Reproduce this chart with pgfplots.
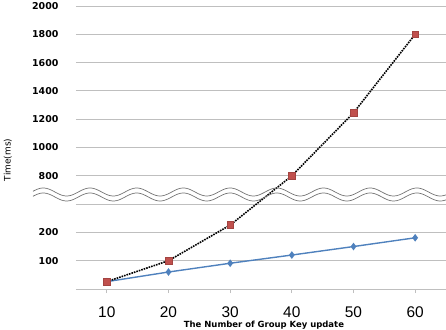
\documentclass[border=0pt]{standalone}
\usepackage{fontspec}
\setmainfont{DejaVu Sans}
\newfontfamily\arialf{Liberation Sans}
\usepackage{pgfplots}
\pgfplotsset{compat=1.18}
\definecolor{exred}{HTML}{C0504D}
\definecolor{exblue}{HTML}{4F81BD}
\definecolor{gridgray}{HTML}{BFBFBF}

\begin{document}
\begin{tikzpicture}
\begin{axis}[
  name=ax, at={(0,0)}, anchor=south west, scale only axis,
  width=370bp, height=283bp,
  xmin=5, xmax=65, ymin=0, ymax=2000,
  % broken value axis: 0..300 at full scale, 300..800 squeezed, 800..2000 at half scale
  y coord trafo/.code={\pgfmathparse{#1<=300 ? #1 : (#1>=800 ? 400+(#1-800)*0.5 : 300+(#1-300)*0.2)}},
  y coord inv trafo/.code={\pgfmathparse{#1<=300 ? #1 : (#1>=400 ? 800+(#1-400)*2 : 300+(#1-300)*5)}},
  /pgf/number format/assume math mode=true,
  xtick={10,20,30,40,50,60},
  ytick={0,100,200,300,800,1000,1200,1400,1600,1800,2000},
  yticklabels={,100,200,,800,1000,1200,1400,1600,1800,2000},
  ymajorgrids, grid style={draw=gridgray, line width=0.8bp},
  axis line style={draw=none},
  xtick pos=lower, tick align=outside, major tick length=4bp,
  xtick style={draw=gridgray, line width=0.8bp},
  ytick style={draw=none},
  xticklabel style={font=\arialf\fontsize{15.5}{16}\selectfont, yshift=-10bp},
  yticklabel style={font=\bfseries\fontsize{9.5}{10}\selectfont, xshift=-10bp},
  xlabel={The Number of Group Key update},
  xlabel style={font=\bfseries\fontsize{8.5}{9}\selectfont, at={(axis description cs:0.508,-0.127)}, anchor=center},
  ylabel={Time(ms)},
  ylabel style={font=\fontsize{9}{10}\selectfont, at={(axis description cs:-0.184,0.456)}, anchor=center},
  clip=false,
]
\addplot[exblue, line width=1.4bp, mark=diamond*, mark size=2.7bp,
  mark options={fill=exblue, draw=exblue}]
  coordinates {(10,26) (20,60) (30,91) (40,120) (50,150) (60,181)};
\addplot[black, line width=1.6bp, densely dotted, mark=square*, mark size=3.4bp,
  mark options={solid, fill=exred, draw=exred!85!black, line width=0.5bp}]
  coordinates {(10,26) (20,100) (30,226) (40,800) (50,1245) (60,1800)};
\end{axis}
% break marks on the value axis
\begin{scope}[shift={(ax.south west)}, x=1bp, y=1bp]
  \draw[black!55, line width=0.7bp] plot[domain=-43:370, samples=240]
    (\x, {97+4*cos(((\x-14)/46.7)*360)});
  \draw[black!55, line width=0.7bp] plot[domain=-43:370, samples=240]
    (\x, {92+4*cos(((\x-14)/46.7)*360)});
\end{scope}
\pgfresetboundingbox
\useasboundingbox ([shift={(-76bp,-41bp)}]ax.south west) rectangle ([shift={(370bp,289bp)}]ax.south west);
\end{tikzpicture}
\end{document}
